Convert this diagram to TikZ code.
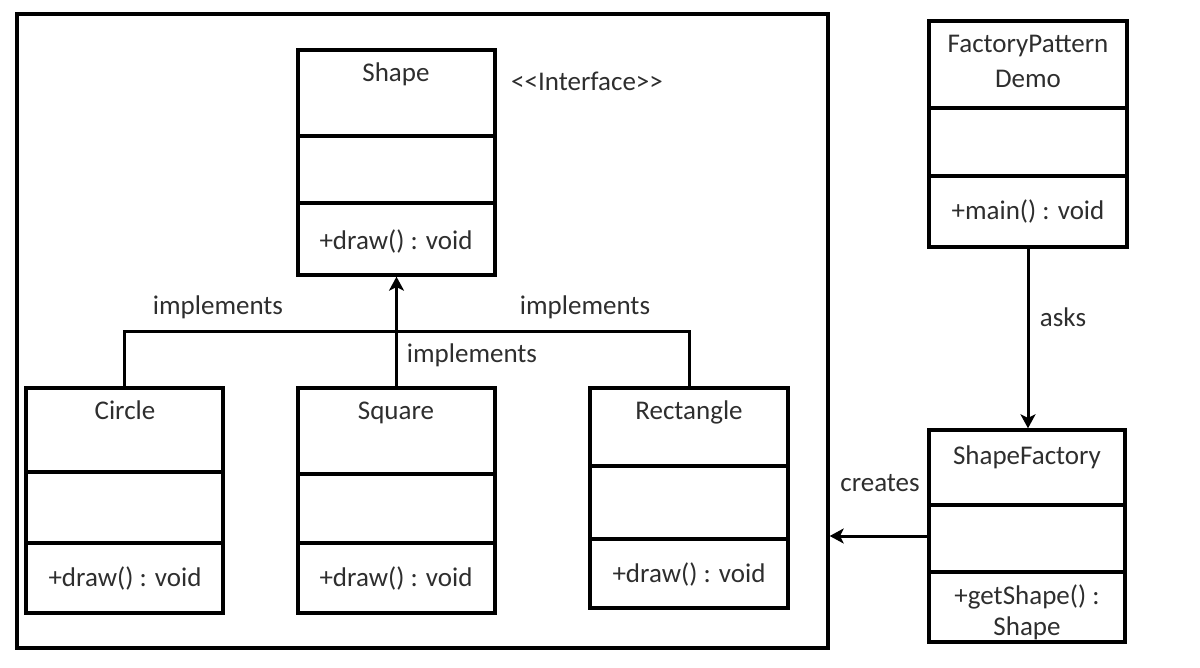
\documentclass[tikz,border=0pt]{standalone}
\usepackage{fontspec}
\setmainfont{Carlito}
\usetikzlibrary{arrows.meta,fit}
\begin{document}
\begin{tikzpicture}[x=0.5pt,y=-0.5pt,
  box/.style={draw, line width=1.7pt, inner sep=0pt},
  div/.style={line width=1.7pt},
  lbl/.style={font=\fontsize{13.5pt}{16pt}\selectfont, text=black!82, inner sep=0pt, anchor=base},
  link/.style={line width=1.5pt},
  arr/.style={link, -{Stealth[length=7pt,width=7.5pt,inset=1.8pt]}}]
\useasboundingbox (0,0) rectangle (1200,668);

% package frame around the shape classes
\node[box, fit={(17,14) (828,648)}] (pkg) {};

% Shape interface
\node[box, fit={(298,50) (495,275)}] (shape) {};
\draw[div] (298,136) -- (495,136);
\draw[div] (298,203) -- (495,203);
\node[lbl] (shapeT) at (396,82) {Shape};
\node[lbl] (shapeM) at (396,250) {+draw() : void};
\node[lbl] (iface) at (587,91) {<{}<Interface>{}>};

% Circle
\node[box, fit={(26,388) (223,613)}] (circle) {};
\draw[div] (26,472) -- (223,472);
\draw[div] (26,543) -- (223,543);
\node[lbl] (circleT) at (125,419) {Circle};
\node[lbl] (circleM) at (125,586) {+draw() : void};

% Square
\node[box, fit={(298,388) (495,613)}] (square) {};
\draw[div] (298,474) -- (495,474);
\draw[div] (298,543) -- (495,543);
\node[lbl] (squareT) at (396,419) {Square};
\node[lbl] (squareM) at (396,586) {+draw() : void};

% Rectangle
\node[box, fit={(590,388) (788,608)}] (rect) {};
\draw[div] (590,466) -- (788,466);
\draw[div] (590,539) -- (788,539);
\node[lbl] (rectT) at (689,419) {Rectangle};
\node[lbl] (rectM) at (689,582) {+draw() : void};

% FactoryPatternDemo
\node[box, fit={(929,21) (1127,247)}] (demo) {};
\draw[div] (929,108) -- (1127,108);
\draw[div] (929,176) -- (1127,176);
\node[lbl] (demoT1) at (1028,53) {FactoryPattern};
\node[lbl] (demoT2) at (1028,88) {Demo};
\node[lbl] (demoM) at (1028,220) {+main() : void};

% ShapeFactory
\node[box, fit={(929,430) (1125,642)}] (factory) {};
\draw[div] (929,505) -- (1125,505);
\draw[div] (929,572) -- (1125,572);
\node[lbl] (factoryT) at (1027,465) {ShapeFactory};
\node[lbl] (factoryM1) at (1027,604) {+getShape() :};
\node[lbl] (factoryM2) at (1027,635) {Shape};

% realisation links
\coordinate (bus) at (125,332);
\draw[link] (circle.north) -- (circle.north |- bus) -- (rect.north |- bus) -- (rect.north);
\draw[arr] (square.north) -- (shape.south);
\node[lbl] (impL) at (218,315) {implements};
\node[lbl] (impR) at (585,315) {implements};
\node[lbl] (impM) at (472,363) {implements};

% demo asks the factory, factory creates shapes
\draw[arr] (demo.south) -- (demo.south |- factory.north);
\node[lbl] (asks) at (1063,327) {asks};
\draw[arr] (factory.west) -- (factory.west -| pkg.east);
\node[lbl] (creates) at (880,491) {creates};
\end{tikzpicture}
\end{document}
